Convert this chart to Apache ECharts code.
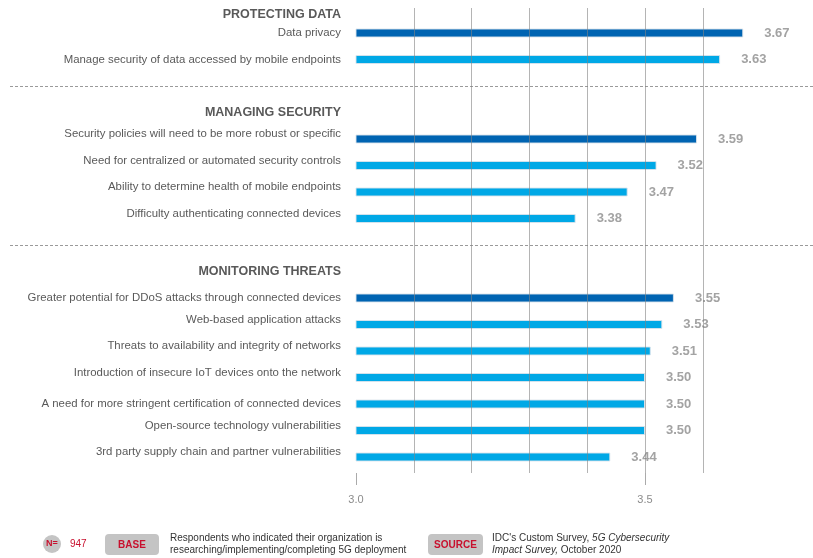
<!DOCTYPE html>
<html lang="en">
<head>
    <meta charset="UTF-8">
    <title>5G security concerns</title>
    <script src="https://cdn.jsdelivr.net/npm/echarts@6/dist/echarts.min.js"></script>
    <style>
        html, body { margin: 0; padding: 0; background: #fff; }
        #main { width: 813px; height: 558px; }
    </style>
</head>
<body>
<div id="main"></div>
<script type="text/javascript">
    // section headers
    var sections = ['PROTECTING DATA', 'MANAGING SECURITY', 'MONITORING THREATS'];

    var protectingItems = ['Data privacy', 'Manage security of data accessed by mobile endpoints'];
    var protectingValues = [3.67, 3.63];

    var managingItems = [
        'Security policies will need to be more robust or specific',
        'Need for centralized or automated security controls',
        'Ability to determine health of mobile endpoints',
        'Difficulty authenticating connected devices'
    ];
    var managingValues = [3.59, 3.52, 3.47, 3.38];

    var threatItems = [
        'Greater potential for DDoS attacks through connected devices',
        'Web-based application attacks',
        'Threats to availability and integrity of networks',
        'Introduction of insecure IoT devices onto the network',
        'A need for more stringent certification of connected devices',
        'Open-source technology vulnerabilities',
        '3rd party supply chain and partner vulnerabilities'
    ];
    var threatValues = [3.55, 3.53, 3.51, 3.50, 3.50, 3.50, 3.44];

    var xTicks = [3.0, 3.5];

    var DARK = '#0064b2';
    var LIGHT = '#00a8e6';

    // labels that sit a little above their bar in the original
    var raised = [
        'Security policies will need to be more robust or specific',
        'Need for centralized or automated security controls',
        'Ability to determine health of mobile endpoints',
        'Difficulty authenticating connected devices',
        'Web-based application attacks',
        'Threats to availability and integrity of networks',
        'Introduction of insecure IoT devices onto the network',
        'Open-source technology vulnerabilities',
        '3rd party supply chain and partner vulnerabilities'
    ];

    // one category list: items, spacer, header, items ... (first header is the axis name)
    var cats = [];
    var barData = [];
    var groups = [[protectingItems, protectingValues], [managingItems, managingValues], [threatItems, threatValues]];
    groups.forEach(function (g, i) {
        if (i > 0) {
            cats.push('__sep' + i);
            barData.push('-');
            cats.push(sections[i]);
            barData.push('-');
        }
        g[0].forEach(function (name, j) {
            cats.push(name);
            barData.push({value: g[1][j], itemStyle: {color: j == 0 ? DARK : LIGHT}});
        });
    });

    var ROW = 26.5;
    var LEFT = 356;
    var UNIT = 578; // px per 1.0 on the value axis
    var XMIN = 3.0, XMAX = 3.7;
    var W = (XMAX - XMIN) * UNIT;

    var myChart = echarts.init(document.getElementById('main'));

    var option = {
        animation: false,
        textStyle: {fontFamily: 'Liberation Sans, Arial, sans-serif'},
        grid: [
            {left: LEFT, width: W, top: 8, bottom: 85},
            {left: LEFT, width: W, top: 33 - ROW / 2, height: ROW * cats.length}
        ],
        xAxis: [{
            // vertical grid lines, drawn over the bars (own layer)
            gridIndex: 0, type: 'value', min: XMIN, max: XMAX, interval: 0.1, zlevel: 1,
            axisLine: {show: false}, axisTick: {show: false}, axisLabel: {show: false},
            splitLine: {show: true, showMinLine: false, showMaxLine: false,
                lineStyle: {color: 'rgba(130,130,130,0.6)', width: 1}}
        }, {
            gridIndex: 0, type: 'value', min: XMIN, max: XMAX, position: 'bottom',
            axisLine: {show: false},
            splitLine: {show: false},
            axisTick: {show: true, customValues: xTicks, length: 12, lineStyle: {color: '#aaaaaa'}},
            axisLabel: {
                customValues: xTicks, margin: 21, color: '#8c8c8c', fontSize: 11,
                formatter: function (v) { return Number(v).toFixed(1); }
            }
        }, {
            gridIndex: 1, type: 'value', min: XMIN, max: XMAX, show: false
        }],
        yAxis: [{
            gridIndex: 0, type: 'value', show: false
        }, {
            gridIndex: 1, type: 'category', inverse: true, data: cats,
            name: sections[0], nameLocation: 'start', nameGap: -1,
            nameTextStyle: {fontSize: 12.5, fontWeight: 'bold', color: '#595959', align: 'right', padding: [0, 15, 0, 0]},
            axisLine: {show: false}, axisTick: {show: false},
            axisLabel: {
                margin: 15, interval: 0, color: '#595959', fontSize: 11.4,
                formatter: function (v) {
                    if (v.indexOf('__sep') == 0) return '';
                    if (sections.indexOf(v) >= 0) return '{h|' + v + '}';
                    if (raised.indexOf(v) >= 0) return '{u|' + v + '}';
                    return '{n|' + v + '}';
                },
                rich: {
                    h: {fontSize: 12.5, fontWeight: 'bold', color: '#595959'},
                    n: {fontSize: 11.4, color: '#595959'},
                    u: {fontSize: 11.4, color: '#595959', padding: [0, 0, 10, 0]}
                }
            }
        }],
        series: [{
            type: 'bar',
            xAxisIndex: 2, yAxisIndex: 1,
            barWidth: 9,
            data: barData,
            itemStyle: {borderColor: 'rgba(220,228,236,0.9)', borderWidth: 1},
            label: {
                show: true, position: 'right', distance: 21,
                color: '#a3a3a3', fontSize: 13, fontWeight: 'bold',
                formatter: function (p) { return p.value.toFixed(2); }
            }
        }]
    };
    myChart.setOption(option);

    // dashed separators between sections + footer
    var gfx = [];
    cats.forEach(function (c) {
        if (c.indexOf('__sep') == 0) {
            var y = Math.round(myChart.convertToPixel({yAxisIndex: 1}, c)) + 0.5;
            gfx.push({
                type: 'line', z: 10,
                shape: {x1: 10, y1: y, x2: 813, y2: y},
                style: {stroke: '#9a9a9a', lineWidth: 1, lineDash: [3, 2]}
            });
        }
    });

    var footFont = 'Liberation Sans, Arial, sans-serif';
    gfx.push(
        {type: 'circle', shape: {cx: 52, cy: 544, r: 9}, style: {fill: '#c4c4c4'}},
        {type: 'text', x: 52, y: 544, style: {text: 'N=', fill: '#c8102e', font: 'bold 9px ' + footFont, align: 'center', verticalAlign: 'middle'}},
        {type: 'text', x: 70, y: 544, style: {text: '947', fill: '#c8102e', font: '10px ' + footFont, verticalAlign: 'middle'}},
        {type: 'rect', shape: {x: 105, y: 534, width: 54, height: 21, r: 4}, style: {fill: '#c4c4c4'}},
        {type: 'text', x: 132, y: 545, style: {text: 'BASE', fill: '#c8102e', font: 'bold 10px ' + footFont, align: 'center', verticalAlign: 'middle'}},
        {type: 'text', x: 170, y: 544, style: {
            text: 'Respondents who indicated their organization is\nresearching/implementing/completing 5G deployment',
            fill: '#333', font: '10px ' + footFont, lineHeight: 12, verticalAlign: 'middle'}},
        {type: 'rect', shape: {x: 428, y: 534, width: 55, height: 21, r: 4}, style: {fill: '#c4c4c4'}},
        {type: 'text', x: 455.5, y: 545, style: {text: 'SOURCE', fill: '#c8102e', font: 'bold 10px ' + footFont, align: 'center', verticalAlign: 'middle'}},
        {type: 'text', x: 492, y: 544, style: {
            text: "{n|IDC's Custom Survey, }{i|5G Cybersecurity}\n{i|Impact Survey,}{n| October 2020}",
            verticalAlign: 'middle',
            rich: {
                n: {fill: '#333', fontSize: 10, fontFamily: footFont, lineHeight: 12},
                i: {fill: '#333', fontSize: 10, fontStyle: 'italic', fontFamily: footFont, lineHeight: 12}
            }
        }}
    );
    myChart.setOption({graphic: gfx});
</script>
</body>
</html>
